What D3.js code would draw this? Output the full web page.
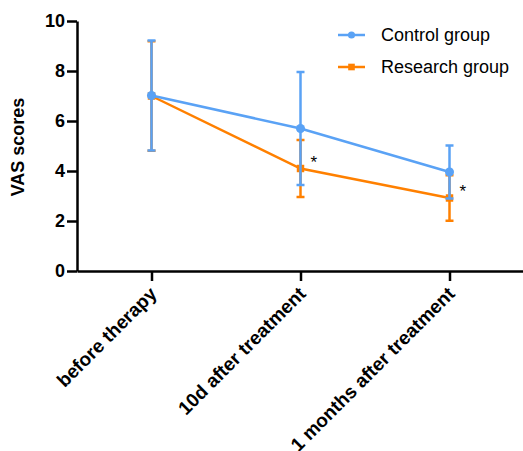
<!DOCTYPE html>
<html lang="en">
<head>
    <meta charset="UTF-8">
    <title>VAS scores</title>
    <script src="https://cdn.jsdelivr.net/npm/d3@7"></script>
    <style>
        body { margin: 0; background: #fff; }
        text { font-family: "Liberation Sans", Arial, sans-serif; }
    </style>
</head>
<body>
<script>
    // data
    let categories = ["before therapy", "10d after treatment", "1 months after treatment"];
    let controlMean = [7.02, 5.70, 3.96];
    let controlSD = [2.2, 2.26, 1.06];
    let researchMean = [7.0, 4.10, 2.92];
    let researchSD = [2.19, 1.14, 0.91];
    let seriesNames = ["Control group", "Research group"];
    let yTicks = [0, 2, 4, 6, 8, 10];
    let starFlags = [false, true, true];

    let width = 523, height = 451;
    let colours = ["#5aa2f5", "#ff8000"];

    let svg = d3.select("body").append("svg")
        .attr("width", width)
        .attr("height", height);

    let x = d3.scalePoint()
        .domain(categories)
        .range([77, 524])
        .padding(0.5);

    let y = d3.scaleLinear()
        .domain([0, 10])
        .range([271, 21]);

    // y axis
    let yAxis = svg.append("g")
        .attr("transform", "translate(77,0)")
        .call(d3.axisLeft(y).tickValues(yTicks).tickSize(10).tickSizeOuter(0).tickPadding(2));
    yAxis.select(".domain").attr("stroke", "#000").attr("stroke-width", 2.5);
    yAxis.selectAll(".tick line").attr("stroke", "#000").attr("stroke-width", 2.5);
    yAxis.selectAll(".tick text")
        .attr("fill", "#000")
        .style("font-size", "18px")
        .style("font-weight", "bold");

    // x axis
    let xAxis = svg.append("g")
        .attr("transform", "translate(0,271)")
        .call(d3.axisBottom(x).tickSize(10).tickSizeOuter(0));
    xAxis.select(".domain").attr("stroke", "#000").attr("stroke-width", 2.5);
    xAxis.selectAll(".tick line").attr("stroke", "#000").attr("stroke-width", 2.5);
    xAxis.selectAll(".tick text")
        .attr("fill", "#000")
        .attr("text-anchor", "end")
        .attr("x", 0).attr("y", 0).attr("dy", 0)
        .attr("transform", "translate(6,24) rotate(-45)")
        .style("font-size", "19px")
        .style("font-weight", "bold");

    // y title
    svg.append("text")
        .attr("transform", "translate(24,147) rotate(-90)")
        .attr("text-anchor", "middle")
        .style("font-size", "18px")
        .style("font-weight", "bold")
        .text("VAS scores");

    let series = [
        { name: seriesNames[1], mean: researchMean, sd: researchSD, colour: colours[1], shape: "square" },
        { name: seriesNames[0], mean: controlMean, sd: controlSD, colour: colours[0], shape: "circle" }
    ];

    let line = d3.line()
        .x(function (d, i) { return x(categories[i]); })
        .y(function (d) { return y(d); });

    series.forEach(function (s) {
        let g = svg.append("g");
        // error bars
        categories.forEach(function (c, i) {
            let cx = x(c);
            let top = y(s.mean[i] + s.sd[i]);
            let bot = y(s.mean[i] - s.sd[i]);
            g.append("line").attr("x1", cx).attr("x2", cx).attr("y1", top).attr("y2", bot)
                .attr("stroke", s.colour).attr("stroke-width", 2.5);
            [top, bot].forEach(function (yy) {
                g.append("line").attr("x1", cx - 4).attr("x2", cx + 4).attr("y1", yy).attr("y2", yy)
                    .attr("stroke", s.colour).attr("stroke-width", 2.5);
            });
        });
        g.append("path")
            .datum(s.mean)
            .attr("d", line)
            .attr("fill", "none")
            .attr("stroke", s.colour)
            .attr("stroke-width", 2.5);
        g.selectAll(".pt")
            .data(s.mean)
            .enter().append("path")
            .attr("transform", function (d, i) { return "translate(" + x(categories[i]) + "," + y(d) + ")"; })
            .attr("d", d3.symbol().type(s.shape == "circle" ? d3.symbolCircle : d3.symbolSquare).size(s.shape == "circle" ? 64 : 56))
            .attr("fill", s.colour);
    });

    // significance stars
    svg.selectAll(".star")
        .data(categories.filter(function (c, i) { return starFlags[i]; }))
        .enter().append("text")
        .attr("x", function (c) { return x(c) + 10; })
        .attr("y", function (c) { return y(researchMean[categories.indexOf(c)]) - 1; })
        .style("font-size", "17px")
        .text("*");

    // legend
    let legend = svg.append("g");
    [0, 1].forEach(function (i) {
        let ly = 35 + i * 32;
        legend.append("line").attr("x1", 338).attr("x2", 365).attr("y1", ly).attr("y2", ly)
            .attr("stroke", colours[i]).attr("stroke-width", 2.5);
        legend.append("path")
            .attr("transform", "translate(351.5," + ly + ")")
            .attr("d", d3.symbol().type(i == 0 ? d3.symbolCircle : d3.symbolSquare).size(i == 0 ? 40 : 44))
            .attr("fill", colours[i]);
        legend.append("text")
            .attr("x", 381).attr("y", ly + 6)
            .style("font-size", "18px")
            .text(seriesNames[i]);
    });
</script>
</body>
</html>
